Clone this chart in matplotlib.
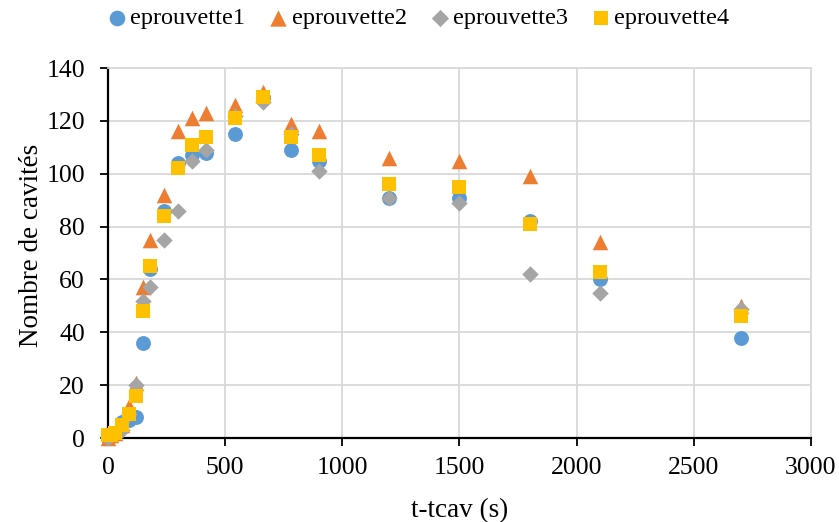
import matplotlib.pyplot as plt

plt.rcParams['font.family'] = ['Liberation Serif', 'DejaVu Serif']

# temps (s) depuis tcav
t = [0, 15, 30, 60, 90, 120, 150, 180, 240, 300, 360, 420, 540, 660,
     780, 900, 1200, 1500, 1800, 2100, 2700]

eprouvette1 = [0, 1, 2, 6, 7, 8, 36, 64, 86, 104, 107, 108, 115, 129,
               109, 105, 91, 91, 82, 60, 38]
eprouvette2 = [0, 1, 2, 5, 12, 21, 57, 75, 92, 116, 121, 123, 126, 131,
               119, 116, 106, 105, 99, 74, 50]
eprouvette3 = [0, 1, 2, 3, 9, 20, 52, 57, 75, 86, 105, 109, 122, 127,
               115, 101, 91, 89, 62, 55, 49]
eprouvette4 = [1, 1, 2, 5, 9, 16, 48, 65, 84, 102, 111, 114, 121, 129,
               114, 107, 96, 95, 81, 63, 46]

series = [
    ('eprouvette1', eprouvette1, 'o', '#5B9BD5', 115),
    ('eprouvette2', eprouvette2, '^', '#ED7D31', 125),
    ('eprouvette3', eprouvette3, 'D', '#A5A5A5', 70),
    ('eprouvette4', eprouvette4, 's', '#FFC000', 90),
]

fig = plt.figure(figsize=(8.39, 5.22), dpi=100)
ax = fig.add_axes([0.1287, 0.1609, 0.8379, 0.7088])

for name, y, m, c, s in series:
    ax.scatter(t, y, marker=m, color=c, s=s, label=name, linewidths=0,
               zorder=3, clip_on=False)

ax.set_xlim(0, 3000)
ax.set_ylim(0, 140)
ax.set_xticks(range(0, 3001, 500))
ax.set_yticks(range(0, 141, 20))
ax.grid(True, color='#d9d9d9', linewidth=1.3, zorder=0)
ax.set_axisbelow(True)

for side in ['top', 'right']:
    ax.spines[side].set_color('#d9d9d9')
    ax.spines[side].set_linewidth(1.3)
for side in ['left', 'bottom']:
    ax.spines[side].set_color('black')
    ax.spines[side].set_linewidth(1.6)

ax.tick_params(axis='both', direction='out', length=5.5, width=1.3,
               labelsize=18.5, colors='black')
ax.tick_params(axis='x', pad=8)
ax.tick_params(axis='y', pad=11)
ax.tick_params(top=False, right=False)

ax.set_xlabel('t-tcav (s)', fontsize=19.5, labelpad=14)
ax.set_ylabel('Nombre de cavités', fontsize=19.5, labelpad=2)
ax.yaxis.label.set_y(0.52)

fig.legend(loc='center', bbox_to_anchor=(0.5, 0.965), ncol=4, frameon=False,
           fontsize=17.5, handlelength=0.6, handletextpad=0.25,
           columnspacing=1.05, borderaxespad=0, scatterpoints=1,
           markerscale=1.05)

fig.savefig('out.png', dpi=100)
